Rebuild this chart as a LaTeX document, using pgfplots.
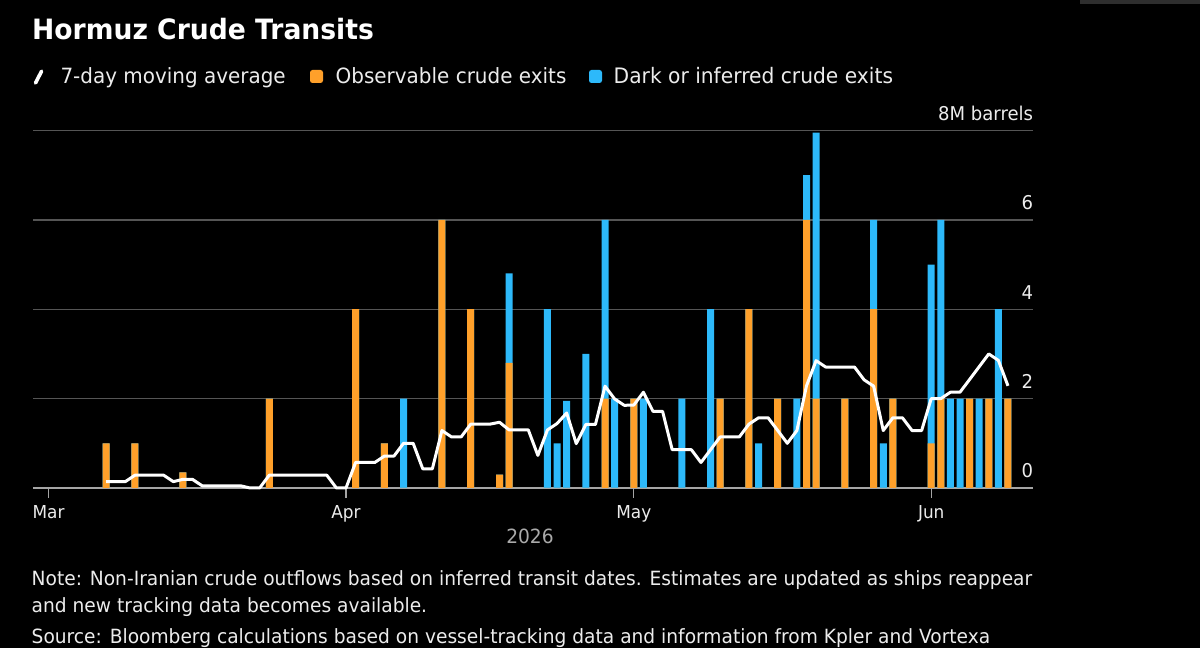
\documentclass[border=0pt]{standalone}
\usepackage{fontspec}
\setmainfont{DejaVu Sans}[FakeStretch=0.95]
\usepackage{pgfplots}
\pgfplotsset{compat=1.18}
\usepackage{pgfplotstable}
\definecolor{obs}{RGB}{255,160,42}
\definecolor{dark}{RGB}{45,185,250}
\definecolor{gridc}{RGB}{85,85,85}
\definecolor{basec}{RGB}{165,165,165}
\definecolor{txt}{RGB}{236,236,236}
\definecolor{yr}{RGB}{170,170,170}

\pgfplotstableread{
day obs dark
6 1 0
9 1 0
14 0.35 0
23 2 0
32 4 0
35 1 0
37 0 2
41 6 0
44 4 0
47 0.3 0
48 2.8 2.0
52 0 4
53 0 1
54 0 1.95
56 0 3
58 2 4
59 0 2
61 2 0
62 0 2
66 0 2
69 0 4
70 2 0
73 4 0
74 0 1
76 2 0
78 0 2
79 6 1
80 2 5.95
83 2 0
86 4 2
87 0 1
88 2 0
92 1 4
93 2 4
94 0 2
95 0 2
96 2 0
97 0 2
98 2 0
99 0 4
100 2 0
}\bars

\pgfplotstableread{
day ma
6 0.143
7 0.143
8 0.143
9 0.286
10 0.286
11 0.286
12 0.286
13 0.143
14 0.193
15 0.193
16 0.05
17 0.05
18 0.05
19 0.05
20 0.05
21 0
22 0
23 0.286
24 0.286
25 0.286
26 0.286
27 0.286
28 0.286
29 0.286
30 0
31 0
32 0.571
33 0.571
34 0.571
35 0.714
36 0.714
37 1.0
38 1.0
39 0.429
40 0.429
41 1.286
42 1.143
43 1.143
44 1.429
45 1.429
46 1.429
47 1.471
48 1.3
49 1.3
50 1.3
51 0.729
52 1.3
53 1.443
54 1.679
55 0.993
56 1.421
57 1.421
58 2.279
59 1.993
60 1.85
61 1.857
62 2.143
63 1.714
64 1.714
65 0.857
66 0.857
67 0.857
68 0.571
69 0.857
70 1.143
71 1.143
72 1.143
73 1.429
74 1.571
75 1.571
76 1.286
77 1.0
78 1.286
79 2.286
80 2.85
81 2.707
82 2.707
83 2.707
84 2.707
85 2.421
86 2.279
87 1.286
88 1.571
89 1.571
90 1.286
91 1.286
92 2.0
93 2.0
94 2.143
95 2.143
96 2.429
97 2.714
98 3.0
99 2.857
100 2.286
}\mavg

\begin{document}
\begin{tikzpicture}[x=1pt,y=1pt]
\useasboundingbox (0,0) rectangle (1200,648);
\fill[black] (0,0) rectangle (1200,648);
\fill[black!82] (1080,643.5) rectangle (1200,648);

% title
\node[anchor=base west, inner sep=0pt, text=white, font=\bfseries\fontsize{28}{32}\selectfont] at (32,608.7) {Hormuz Crude Transits};

% legend
\draw[white, line width=3.6pt, line cap=round] (35.5,565) -- (41.6,576.8);
\node[anchor=base west, inner sep=0pt, text=txt, font=\fontsize{21}{24}\selectfont] at (60.3,564) {7-day moving average};
\fill[obs, rounded corners=2.5pt] (310,565) rectangle (323,578);
\node[anchor=base west, inner sep=0pt, text=txt, font=\fontsize{21}{24}\selectfont] at (335.5,564) {Observable crude exits};
\fill[dark, rounded corners=2.5pt] (589,565) rectangle (602,578);
\node[anchor=base west, inner sep=0pt, text=txt, font=\fontsize{21.3}{24}\selectfont] at (613.5,564) {Dark or inferred crude exits};

\begin{scope}[shift={(33.3,160)}]
\begin{axis}[
  at={(0,0)}, anchor=south west,
  scale only axis, width=1000pt, height=357.5pt,
  xmin=-1.595, xmax=102.64, ymin=0, ymax=8,
  axis x line*=bottom, axis y line*=right,
  x axis line style={draw=basec, line width=1.3pt, -},
  y axis line style={draw=none},
  ytick={0,2,4,6,8}, yticklabels={0,2,4,6,8M barrels},
  xtick={0,31,61,92}, xticklabels={Mar,Apr,May,Jun},
  ymajorgrids, grid style={draw=gridc, line width=1.3pt},
  ytick style={draw=none},
  xtick style={draw=basec, line width=1.2pt},
  tick align=outside, major tick length=10pt,
  yticklabel style={anchor=base east, inner sep=0pt, yshift=10pt, xshift=-10pt, text=txt, font=\fontsize{19}{22}\selectfont},
  xticklabel style={anchor=base, inner sep=0pt, yshift=-21pt, text=txt, font=\fontsize{17.8}{20}\selectfont},
  clip=false,
]
\addplot[ybar, bar shift=0pt, bar width=7pt, fill=dark, draw=none] table[x=day, y expr=\thisrow{obs}+\thisrow{dark}] {\bars};
\addplot[ybar, bar shift=0pt, bar width=7pt, fill=obs, draw=none] table[x=day, y=obs] {\bars};
\addplot[white, line width=3pt, line join=round, mark=none] table[x=day, y=ma] {\mavg};
\end{axis}
\end{scope}

\node[anchor=base, inner sep=0pt, text=yr, font=\fontsize{19.6}{22}\selectfont] at (530,104) {2026};

% notes
\node[anchor=base west, inner sep=0pt, text=txt, font=\fontsize{19.6}{23}\selectfont] at (31.5,62) {Note: Non-Iranian crude outflows based on inferred transit dates. Estimates are updated as ships reappear};
\node[anchor=base west, inner sep=0pt, text=txt, font=\fontsize{19.6}{23}\selectfont] at (31.5,35.7) {and new tracking data becomes available.};
\node[anchor=base west, inner sep=0pt, text=txt, font=\fontsize{19.6}{23}\selectfont] at (31.5,4.7) {Source: Bloomberg calculations based on vessel-tracking data and information from Kpler and Vortexa};
\end{tikzpicture}
\end{document}
